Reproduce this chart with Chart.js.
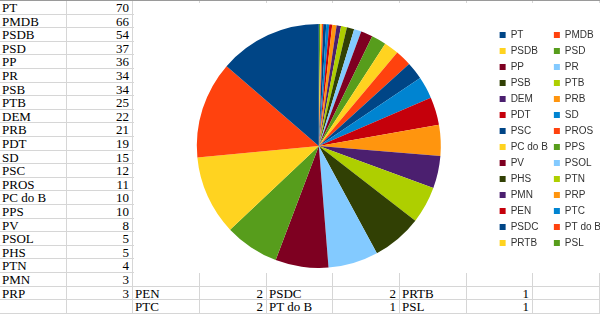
<!DOCTYPE html>
<html>
<head>
<meta charset="utf-8">
<script src="https://cdn.jsdelivr.net/npm/chart.js@4.4.1/dist/chart.umd.min.js"></script>
<style>
  html, body { margin: 0; padding: 0; background: #fff; overflow: hidden; }
  #sheet { position: absolute; left: 0; top: 0; width: 600px; height: 315px; overflow: hidden; }
  .cell { position: absolute; box-sizing: border-box; border-right: 1px solid #d6d6d6; border-bottom: 1px solid #d6d6d6;
          font-family: "Liberation Serif", serif; font-size: 13px; color: #000; white-space: nowrap; overflow: visible; }
  .lbl { padding-left: 2px; }
  .num { text-align: right; padding-right: 3px; }
  #chartBox { position: absolute; left: 134px; top: 3px; width: 466px; height: 270px; background: #fff; overflow: hidden; }
  #pie { position: absolute; left: 10px; top: 21px; }
</style>
</head>
<body>
<div id="sheet">
  <div style="position:absolute;left:0;top:0;width:600px;height:1px;background:#9a9a9a"></div>
  <div id="chartBox"><canvas id="pie" width="467" height="244"></canvas></div>
</div>
<script>
// Seats per party (sheet order)
const parties = ['PT', 'PMDB', 'PSDB', 'PSD', 'PP', 'PR', 'PSB', 'PTB', 'DEM', 'PRB', 'PDT', 'SD', 'PSC', 'PROS',
  'PC do B', 'PPS', 'PV', 'PSOL', 'PHS', 'PTN', 'PMN', 'PRP', 'PEN', 'PTC', 'PSDC', 'PT do B', 'PRTB', 'PSL'];
const seats = [70, 66, 54, 37, 36, 34, 34, 25, 22, 21, 19, 15, 12, 11, 10, 10, 8, 5, 5, 4, 3, 3, 2, 2, 2, 1, 1, 1];
const palette = ['#004586', '#ff420e', '#ffd320', '#579d1c', '#7e0021', '#83caff',
  '#314004', '#aecf00', '#4b1f6f', '#ff950e', '#c5000b', '#0084d1'];

// Spreadsheet grid
const sheet = document.getElementById('sheet');
const chartBox = document.getElementById('chartBox');
const colW = 600 / 9;
const rowH = 13.6;
function cellAt(r, c, text, cls) {
    const d = document.createElement('div');
    const x0 = Math.round(c * colW), x1 = Math.round((c + 1) * colW);
    const y0 = Math.round(1 + r * rowH), y1 = Math.round(1 + (r + 1) * rowH);
    d.className = 'cell' + (cls ? ' ' + cls : '');
    d.style.left = x0 + 'px';
    d.style.top = y0 + 'px';
    d.style.width = (x1 - x0) + 'px';
    d.style.height = (y1 - y0) + 'px';
    d.style.lineHeight = (y1 - y0) + 'px';
    if (text !== undefined) d.textContent = text;
    sheet.insertBefore(d, chartBox);
}
const grid = {};
parties.forEach((p, i) => {
    let r, c;
    if (i < 22) { r = i; c = 0; }
    else { const k = i - 22; r = 21 + (k % 2); c = 2 + Math.floor(k / 2) * 2; }
    grid[r + ',' + c] = [p, 'lbl'];
    grid[r + ',' + (c + 1)] = [String(seats[i]), 'num'];
});
for (let r = 0; r < 23; r++) {
    for (let c = 0; c < 9; c++) {
        const g = grid[r + ',' + c];
        g ? cellAt(r, c, g[0], g[1]) : cellAt(r, c);
    }
}

// Pie goes counter-clockwise in the original, so feed the data reversed
const n = parties.length;
const revLabels = parties.slice().reverse();
const revSeats = seats.slice().reverse();
const revColors = parties.map((_, i) => palette[i % palette.length]).reverse();

new Chart(document.getElementById('pie'), {
    type: 'pie',
    data: {
        labels: revLabels,
        datasets: [{ data: revSeats, backgroundColor: revColors, borderWidth: 0 }]
    },
    options: {
        responsive: false,
        animation: false,
        layout: { padding: 0 },
        plugins: {
            tooltip: { enabled: false },
            legend: {
                position: 'right',
                align: 'start',
                labels: {
                    boxWidth: 6,
                    boxHeight: 6,
                    padding: 6,
                    color: '#333',
                    font: { family: 'Liberation Sans, Arial, sans-serif', size: 10 },
                    // two columns read row by row: PT PMDB / PSDB PSD ...
                    sort: (a, b) => {
                        const ia = n - 1 - a.index, ib = n - 1 - b.index;
                        return ((ia % 2) * 100 + ia) - ((ib % 2) * 100 + ib);
                    }
                }
            }
        }
    }
});
</script>
</body>
</html>
